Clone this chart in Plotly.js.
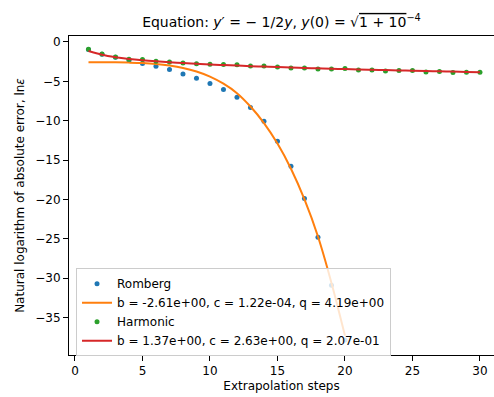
<!DOCTYPE html>
<html>
<head>
<meta charset="utf-8">
<script src="https://cdn.plot.ly/plotly-3.0.1.min.js"></script>
<style>html,body{margin:0;padding:0;background:#fff;}</style>
</head>
<body>
<div id="chart" style="width:494px;height:397px;"></div>
<script>
// Romberg error points (steps 1..20)
const rombergSteps = [1,2,3,4,5,6,7,8,9,10,11,12,13,14,15,16,17,18,19,20];
const rombergErr = [-0.95,-1.55,-1.95,-2.35,-2.74,-3.08,-3.50,-4.06,-4.60,-5.28,-6.04,-7.02,-8.33,-10.06,-12.60,-15.80,-19.87,-24.80,-30.90,-37.85];

// Romberg fit curve
const rombergFitX = [1,2,3,4,5,6,7,8,9,10,11,12,13,14,15,16,17,18,19,20];
const rombergFitY = [-2.58,-2.58,-2.59,-2.62,-2.68,-2.80,-3.00,-3.30,-3.75,-4.40,-5.30,-6.50,-8.20,-10.30,-12.90,-16.10,-20.00,-24.70,-30.60,-37.30];

// Harmonic error points (steps 1..30)
const harmonicSteps = [1,2,3,4,5,6,7,8,9,10,11,12,13,14,15,16,17,18,19,20,21,22,23,24,25,26,27,28,29,30];
const harmonicErr = [-0.93,-1.52,-1.90,-2.20,-2.22,-2.45,-2.53,-2.66,-2.75,-2.83,-2.87,-2.90,-3.06,-3.04,-3.17,-3.30,-3.30,-3.42,-3.42,-3.38,-3.55,-3.55,-3.68,-3.63,-3.63,-3.80,-3.76,-3.89,-3.85,-3.85];

// Harmonic fit curve
const harmonicFitX = [1,2,3,4,5,6,7,8,9,10,11,12,13,14,15,16,17,18,19,20,21,22,23,24,25,26,27,28,29,30];
const harmonicFitY = [-1.15,-1.62,-1.93,-2.15,-2.32,-2.46,-2.58,-2.68,-2.77,-2.86,-2.93,-3.00,-3.07,-3.13,-3.19,-3.24,-3.30,-3.35,-3.40,-3.44,-3.49,-3.53,-3.57,-3.61,-3.65,-3.69,-3.73,-3.76,-3.80,-3.86];

const legendNames = [
  "Romberg",
  "b = -2.61e+00, c = 1.22e-04, q = 4.19e+00",
  "Harmonic",
  "b = 1.37e+00, c = 2.63e+00, q = 2.07e-01"
];
const xTicks = [0,5,10,15,20,25,30];
const yTicks = [0,-5,-10,-15,-20,-25,-30,-35];

const FONT = "DejaVu Sans, Liberation Sans, sans-serif";

const traces = [
  {x: rombergSteps, y: rombergErr, mode: "markers", type: "scatter", name: legendNames[0],
   marker: {color: "#1f77b4", size: 5}},
  {x: rombergFitX, y: rombergFitY, mode: "lines", type: "scatter", name: legendNames[1],
   line: {color: "#ff7f0e", width: 2, shape: "spline"}},
  {x: harmonicSteps, y: harmonicErr, mode: "markers", type: "scatter", name: legendNames[2],
   marker: {color: "#2ca02c", size: 5}},
  {x: harmonicFitX, y: harmonicFitY, mode: "lines", type: "scatter", name: legendNames[3],
   line: {color: "#d62728", width: 2, shape: "spline"}}
];

const layout = {
  width: 494, height: 397,
  margin: {l: 69, r: 0, t: 36, b: 42, pad: 0},
  paper_bgcolor: "#fff", plot_bgcolor: "#fff",
  font: {family: FONT, size: 12, color: "#000"},
  showlegend: true,
  title: {
    text: "Equation: <i>y</i>′ = − 1/2<i>y</i>, <i>y</i>(0) = √<span style=\"text-decoration:overline\">1 + 10</span><sup>−4</sup>",
    font: {family: FONT, size: 14, color: "#000"},
    x: 0.5, xref: "paper", xanchor: "center",
    y: 1 - 22/397, yref: "container", yanchor: "middle"
  },
  xaxis: {
    range: [-0.444, 31.04],
    tickvals: xTicks, ticktext: xTicks.map(String),
    ticks: "outside", ticklen: 5, tickwidth: 1, tickcolor: "#000",
    showline: true, linecolor: "#000", linewidth: 1, mirror: true,
    showgrid: false, zeroline: false,
    tickfont: {family: FONT, size: 12, color: "#000"},
    title: {text: "Extrapolation steps", font: {family: FONT, size: 12, color: "#000"}, standoff: 4}
  },
  yaxis: {
    range: [-39.76, 0.76],
    tickvals: yTicks,
    ticks: "outside", ticklen: 5, tickwidth: 1, tickcolor: "#000",
    showline: true, linecolor: "#000", linewidth: 1, mirror: false,
    showgrid: false, zeroline: false,
    tickfont: {family: FONT, size: 12, color: "#000"},
    title: {text: "Natural logarithm of absolute error, ln<i>ε</i>", font: {family: FONT, size: 12, color: "#000"}, standoff: 8}
  },
  legend: {
    x: 0.0165, y: 0.272, xanchor: "left", yanchor: "top",
    bgcolor: "rgba(255,255,255,0.8)", bordercolor: "#cccccc", borderwidth: 1,
    font: {family: FONT, size: 12, color: "#000"},
    tracegroupgap: 0
  }
};

Plotly.newPlot("chart", traces, layout, {displayModeBar: false, staticPlot: true});
</script>
</body>
</html>
